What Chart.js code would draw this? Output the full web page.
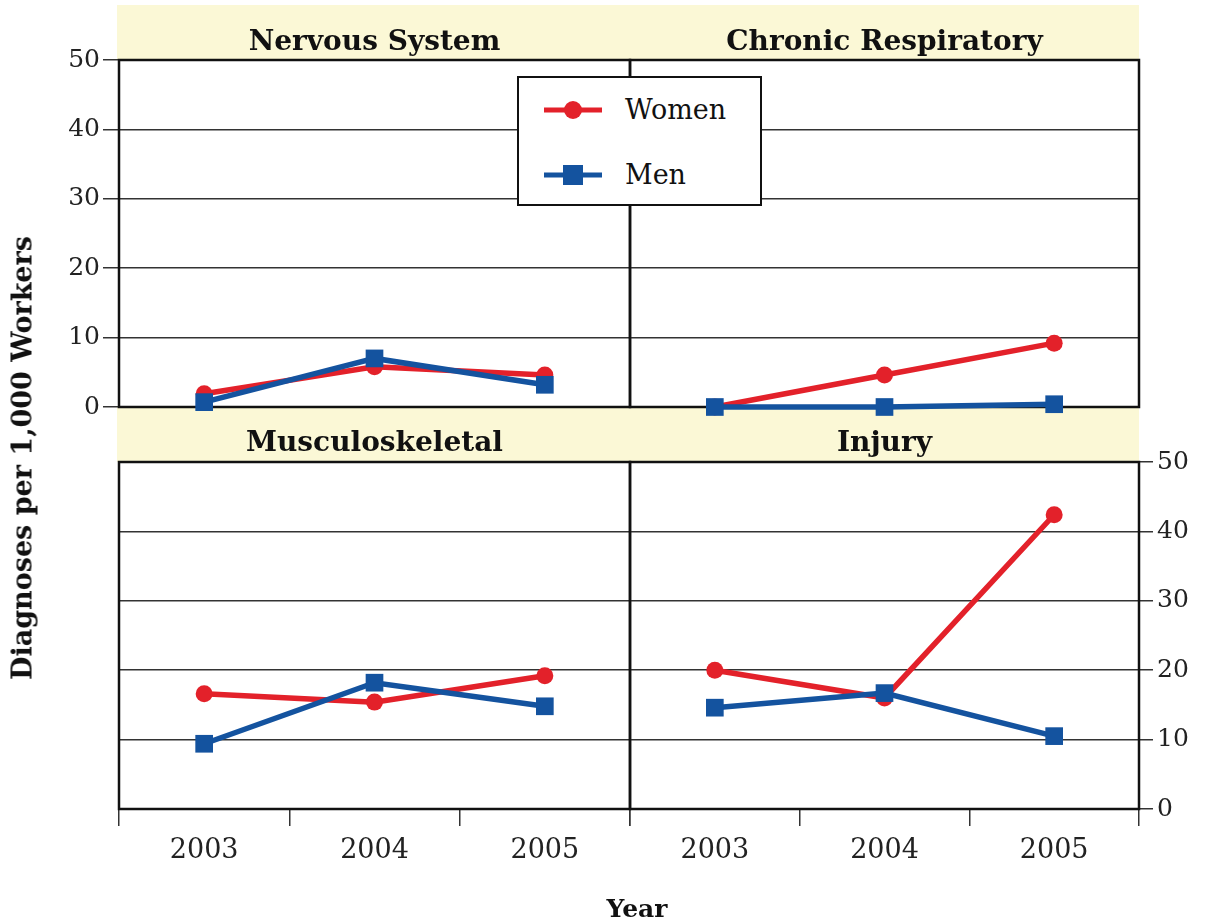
<!DOCTYPE html>
<html>
<head>
<meta charset="utf-8">
<title>Diagnoses per 1,000 Workers</title>
<script src="https://cdn.jsdelivr.net/npm/chart.js@4.4.0/dist/chart.umd.min.js"></script>
<style>
  body { margin: 0; background: #fff; }
  #wrap { position: relative; width: 1206px; height: 924px; overflow: hidden; font-family: "DejaVu Serif", serif; color: #111; }
  .band { position: absolute; left: 117px; width: 1022px; height: 55px; background: #fbf8d6; }
  canvas { position: absolute; left: 0; top: 0; }
  .ptitle { position: absolute; font-weight: bold; font-size: 28px; line-height: 30px; text-align: center; }
  #ytitle { position: absolute; left: 22px; top: 458px; transform: translate(-50%, -50%) rotate(-90deg); white-space: nowrap; font-weight: bold; font-size: 27px; }
  #xtitle { position: absolute; left: 637px; top: 908px; transform: translate(-50%, -50%); font-weight: bold; font-size: 25px; }
  #legend { position: absolute; left: 517px; top: 76px; width: 245px; height: 130px; box-sizing: border-box; border: 2.5px solid #111; background: #fff; z-index: 5; }
  .row { position: absolute; left: 0; height: 30px; }
  .row svg { position: absolute; left: 23px; top: 0; }
  .row span { position: absolute; left: 106px; top: 0; font-size: 27px; line-height: 30px; }
</style>
</head>
<body>
<div id="wrap">
  <div class="band" style="top:5px"></div>
  <div class="band" style="top:407px"></div>

  <canvas id="c1" width="1206" height="924"></canvas>
  <canvas id="c2" width="1206" height="924"></canvas>
  <canvas id="c3" width="1206" height="924"></canvas>
  <canvas id="c4" width="1206" height="924"></canvas>

  <div class="ptitle" style="left:119px; width:511px; top:26px">Nervous System</div>
  <div class="ptitle" style="left:630px; width:509px; top:26px">Chronic Respiratory</div>
  <div class="ptitle" style="left:119px; width:511px; top:427px">Musculoskeletal</div>
  <div class="ptitle" style="left:630px; width:509px; top:427px">Injury</div>

  <div id="legend">
    <div class="row" style="top:17px">
      <svg width="62" height="30"><line x1="2" y1="15" x2="60" y2="15" stroke="#e3212a" stroke-width="5"/><circle cx="31" cy="15" r="9" fill="#e3212a"/></svg>
      <span>Women</span>
    </div>
    <div class="row" style="top:82px">
      <svg width="62" height="30"><line x1="2" y1="15" x2="60" y2="15" stroke="#14539f" stroke-width="5"/><rect x="21" y="5" width="20" height="20" fill="#14539f"/></svg>
      <span>Men</span>
    </div>
  </div>

  <div id="ytitle">Diagnoses per 1,000 Workers</div>
  <div id="xtitle">Year</div>
</div>

<script>
const years = ['2003', '2004', '2005'];

const nervousWomen = [1.9, 5.8, 4.6];
const nervousMen = [0.7, 7.0, 3.2];

const respiratoryWomen = [0, 4.6, 9.2];
const respiratoryMen = [0, 0, 0.4];

const muscWomen = [16.6, 15.4, 19.2];
const muscMen = [9.4, 18.2, 14.8];

const injuryWomen = [20.0, 16.0, 42.4];
const injuryMen = [14.6, 16.7, 10.5];

const yMin = 0;
const yMax = 50;
const yStep = 10;

const RED = '#e3212a';
const BLUE = '#14539f';
const GRID = '#333';

// black box round each plot area, drawn under the lines
const frame = {
  id: 'frame',
  beforeDatasetsDraw(chart) {
    const { ctx, chartArea: a } = chart;
    ctx.save();
    ctx.strokeStyle = '#111';
    ctx.lineWidth = 2.5;
    ctx.strokeRect(a.left, a.top, a.right - a.left, a.bottom - a.top);
    ctx.restore();
  }
};

function makePanel(id, women, men, opt) {
  const ctx = document.getElementById(id).getContext('2d');
  return new Chart(ctx, {
    type: 'line',
    data: {
      labels: years,
      datasets: [
        {
          label: 'Women',
          data: women,
          borderColor: RED,
          backgroundColor: RED,
          borderWidth: 5.5,
          pointStyle: 'circle',
          pointRadius: 8.5,
          pointBorderWidth: 0,
          clip: false,
          order: 1
        },
        {
          label: 'Men',
          data: men,
          borderColor: BLUE,
          backgroundColor: BLUE,
          borderWidth: 5.5,
          pointStyle: 'rect',
          pointRadius: 12.5,
          pointBorderWidth: 0,
          clip: false,
          order: 0
        }
      ]
    },
    options: {
      responsive: false,
      animation: false,
      events: [],
      layout: { padding: opt.padding },
      plugins: {
        legend: { display: false },
        tooltip: { enabled: false }
      },
      scales: {
        x: {
          type: 'category',
          offset: true,
          display: opt.showX,
          border: { display: false },
          grid: {
            offset: true,
            drawOnChartArea: false,
            drawTicks: true,
            tickLength: 17,
            color: GRID,
            lineWidth: 1.5
          },
          ticks: {
            padding: 9,
            color: '#222',
            font: { family: 'DejaVu Serif', size: 27 }
          },
          afterFit(s) { s.height = opt.showX ? 115 : 0; }
        },
        y: {
          position: opt.yPos,
          min: yMin,
          max: yMax,
          border: { display: false },
          grid: {
            color: GRID,
            lineWidth: 1.5,
            drawTicks: opt.yWidth > 0,
            tickLength: opt.yPos === 'left' ? 16 : 14
          },
          ticks: {
            display: opt.yWidth > 0,
            stepSize: yStep,
            padding: opt.yPos === 'left' ? 3 : 4,
            color: '#222',
            font: { family: 'DejaVu Serif', size: 25 }
          },
          afterFit(s) { s.width = opt.yWidth; }
        }
      }
    },
    plugins: [frame]
  });
}

// plot areas: top row 60..407, bottom row 462..809, columns 119..630 and 630..1139
makePanel('c1', nervousWomen, nervousMen, {
  padding: { left: 0, right: 576, top: 60, bottom: 517 },
  yPos: 'left', yWidth: 119, showX: false
});
makePanel('c2', respiratoryWomen, respiratoryMen, {
  padding: { left: 630, right: 67, top: 60, bottom: 517 },
  yPos: 'left', yWidth: 0, showX: false
});
makePanel('c3', muscWomen, muscMen, {
  padding: { left: 119, right: 576, top: 462, bottom: 0 },
  yPos: 'left', yWidth: 0, showX: true
});
makePanel('c4', injuryWomen, injuryMen, {
  padding: { left: 630, right: 0, top: 462, bottom: 0 },
  yPos: 'right', yWidth: 67, showX: true
});
</script>
</body>
</html>
